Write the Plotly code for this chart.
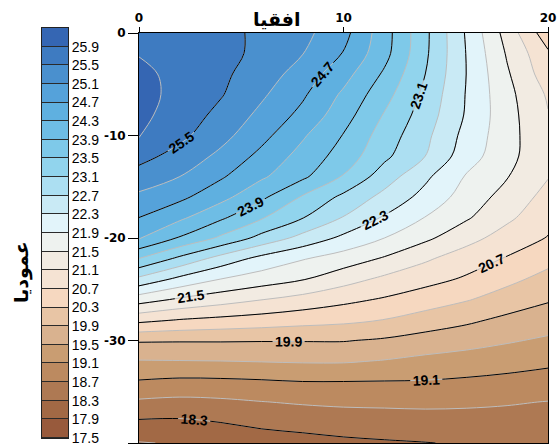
import plotly.graph_objects as go

# Horizontal distance (columns) and depth (rows) of the temperature grid
x_dist = [0, 2, 4, 6, 8, 10, 12, 14, 16, 18, 20]
depth = [0, -2, -4, -6, -8, -10, -12, -14, -16, -18, -20,
         -22, -24, -26, -28, -30, -32, -34, -36, -38, -40]

# Temperature at each grid node, one row per depth (top row = depth 0)
temp = [
    [25.80, 25.70, 25.60, 25.43, 25.21, 24.83, 24.07, 23.19, 22.26, 21.34, 20.46],
    [25.88, 25.75, 25.63, 25.40, 25.11, 24.68, 24.03, 23.17, 22.29, 21.46, 20.76],
    [26.00, 25.78, 25.58, 25.30, 24.93, 24.45, 23.84, 23.10, 22.30, 21.55, 20.88],
    [26.05, 25.77, 25.53, 25.16, 24.76, 24.23, 23.65, 23.00, 22.28, 21.62, 21.05],
    [26.00, 25.72, 25.39, 25.00, 24.59, 24.07, 23.47, 22.91, 22.26, 21.65, 21.12],
    [25.93, 25.60, 25.23, 24.82, 24.35, 23.88, 23.32, 22.80, 22.17, 21.66, 21.15],
    [25.64, 25.35, 25.01, 24.59, 24.16, 23.73, 23.19, 22.70, 22.08, 21.64, 21.15],
    [25.33, 25.10, 24.75, 24.36, 23.98, 23.47, 22.90, 22.38, 21.87, 21.52, 21.12],
    [25.02, 24.79, 24.43, 23.98, 23.46, 23.01, 22.58, 22.17, 21.73, 21.35, 20.97],
    [24.70, 24.38, 23.97, 23.54, 23.12, 22.68, 22.26, 21.89, 21.55, 21.18, 20.83],
    [24.34, 23.86, 23.43, 22.97, 22.57, 22.21, 21.90, 21.58, 21.24, 20.93, 20.68],
    [23.50, 23.01, 22.55, 22.18, 21.93, 21.72, 21.46, 21.16, 20.90, 20.67, 20.42],
    [22.61, 22.20, 21.90, 21.71, 21.53, 21.26, 21.02, 20.84, 20.65, 20.40, 20.18],
    [21.68, 21.44, 21.27, 21.11, 20.96, 20.80, 20.66, 20.49, 20.33, 20.13, 19.94],
    [20.81, 20.68, 20.60, 20.53, 20.45, 20.39, 20.29, 20.14, 19.98, 19.81, 19.69],
    [19.94, 19.93, 19.93, 19.92, 19.92, 19.92, 19.85, 19.73, 19.64, 19.54, 19.44],
    [19.48, 19.49, 19.50, 19.52, 19.54, 19.54, 19.48, 19.40, 19.34, 19.27, 19.19],
    [19.07, 19.02, 19.03, 19.06, 19.10, 19.10, 19.09, 19.08, 19.04, 18.99, 18.93],
    [18.64, 18.60, 18.63, 18.69, 18.74, 18.77, 18.78, 18.79, 18.77, 18.73, 18.69],
    [18.24, 18.23, 18.30, 18.39, 18.44, 18.49, 18.51, 18.53, 18.54, 18.56, 18.53],
    [17.88, 17.93, 18.02, 18.10, 18.16, 18.22, 18.26, 18.29, 18.33, 18.36, 18.38],
]

# Contour levels
level_start = 17.5
level_end = 25.9
level_step = 0.4

# Fill colour of each band, from 17.5-17.9 up to above 25.9
band_colors = [
    "#985a3c", "#a26945", "#ae7953", "#bc8a60", "#c99d72", "#d9b28f",
    "#e8c5a5", "#f6d8c0", "#f5e3d3", "#f2ebe2", "#eef2ef", "#e2f4fa",
    "#c9eaf5", "#acdff2", "#91d4ed", "#7ec9e9", "#6ebde5", "#5fb0e0",
    "#55a2da", "#4a90ce", "#3e7bc1", "#3566b3",
]

x_ticks = [0, 10, 20]
y_ticks = [0, -10, -20, -30, -40]

n_levels = round((level_end - level_start) / level_step) + 1
levels = [round(level_start + i * level_step, 1) for i in range(n_levels)]

# stepped colour scale: the band above level k is sampled at k + step/2
# over a domain running from start - step/2 to end + step/2
n_bands = n_levels
cols = [band_colors[0]] + band_colors
colorscale = []
for i, c in enumerate(cols):
    lo = max(0.0, (i - 0.5) / n_bands)
    hi = min(1.0, (i + 0.5) / n_bands)
    colorscale += [[lo, c], [hi, c]]
cmin = level_start - level_step / 2
cmax = level_end + level_step / 2

ys = depth[::-1]
zs = temp[::-1]

fig = go.Figure()

# filled bands with thin grey isolines
fig.add_trace(go.Contour(
    x=x_dist, y=ys, z=zs,
    colorscale=colorscale, showscale=False,
    contours=dict(start=level_start, end=level_end, size=level_step,
                  coloring="fill", showlabels=False),
    line=dict(color="#bdbdbd", width=1, smoothing=1.0),
    hoverinfo="skip",
))

# every second isoline in black, labelled
fig.add_trace(go.Contour(
    x=x_dist, y=ys, z=zs,
    showscale=False,
    contours=dict(start=level_start, end=level_end, size=2 * level_step,
                  coloring="none", showlabels=True,
                  labelfont=dict(family="Liberation Sans Narrow, Liberation Sans",
                                 size=14, color="black", weight="bold"),
                  labelformat=".1f"),
    line=dict(color="black", width=1, smoothing=1.0),
    hoverinfo="skip",
))

# legend bar: one cell per band
centers = [round(v + level_step / 2, 2) for v in levels]
fig.add_trace(go.Heatmap(
    x=[0], y=centers, z=[[c] for c in centers],
    zmin=cmin, zmax=cmax, colorscale=colorscale, showscale=False,
    ygap=1, xaxis="x2", yaxis="y2", hoverinfo="skip",
))

tick_font = dict(family="DejaVu Sans", size=12, color="black", weight="bold")
title_font = dict(family="DejaVu Sans", size=19, color="black", weight="bold")

fig.update_layout(
    width=559, height=448,
    margin=dict(l=0, r=0, t=0, b=0),
    paper_bgcolor="white",
    plot_bgcolor="#2a2a2a",
    showlegend=False,
    xaxis=dict(domain=[139 / 559, 548 / 559], anchor="y", side="top",
               range=[0, 20], tickvals=x_ticks,
               ticktext=[str(v) for v in x_ticks],
               ticks="outside", ticklen=5, tickcolor="black",
               showline=True, mirror=True, linecolor="black", linewidth=1,
               showgrid=False, zeroline=False, tickfont=tick_font,
               automargin=False),
    yaxis=dict(domain=[1 - 443 / 448, 1 - 33 / 448], anchor="x",
               range=[-40, 0], tickvals=y_ticks,
               ticktext=[str(v) for v in y_ticks],
               ticks="outside", ticklen=10, tickcolor="black",
               showline=True, mirror=True, linecolor="black", linewidth=1,
               showgrid=False, zeroline=False, tickfont=tick_font,
               automargin=False),
    xaxis2=dict(domain=[42 / 559, 68 / 559], anchor="y2", range=[-0.5, 0.5],
                showticklabels=False, ticks="", showgrid=False,
                zeroline=False, showline=True, mirror=True,
                linecolor="#222222", linewidth=1, automargin=False),
    yaxis2=dict(domain=[1 - 438 / 448, 1 - 28 / 448], anchor="x2",
                side="right", range=[level_start, level_end + level_step],
                tickvals=levels, ticktext=[f"{v:.1f}" for v in levels],
                ticks="", showgrid=False, zeroline=False,
                showline=True, mirror=True, linecolor="#222222", linewidth=1,
                tickfont=dict(family="Liberation Sans", size=14, color="black"),
                automargin=False),
    annotations=[
        dict(text="افقيا", x=277 / 559, y=1 - 19 / 448, xref="paper",
             yref="paper", xanchor="center", yanchor="middle",
             showarrow=False, font=title_font),
        dict(text="عموديا", x=21 / 559, y=1 - 272 / 448, xref="paper",
             yref="paper", xanchor="center", yanchor="middle",
             showarrow=False, textangle=-90, font=title_font),
    ],
)

fig.write_html("out.html")
